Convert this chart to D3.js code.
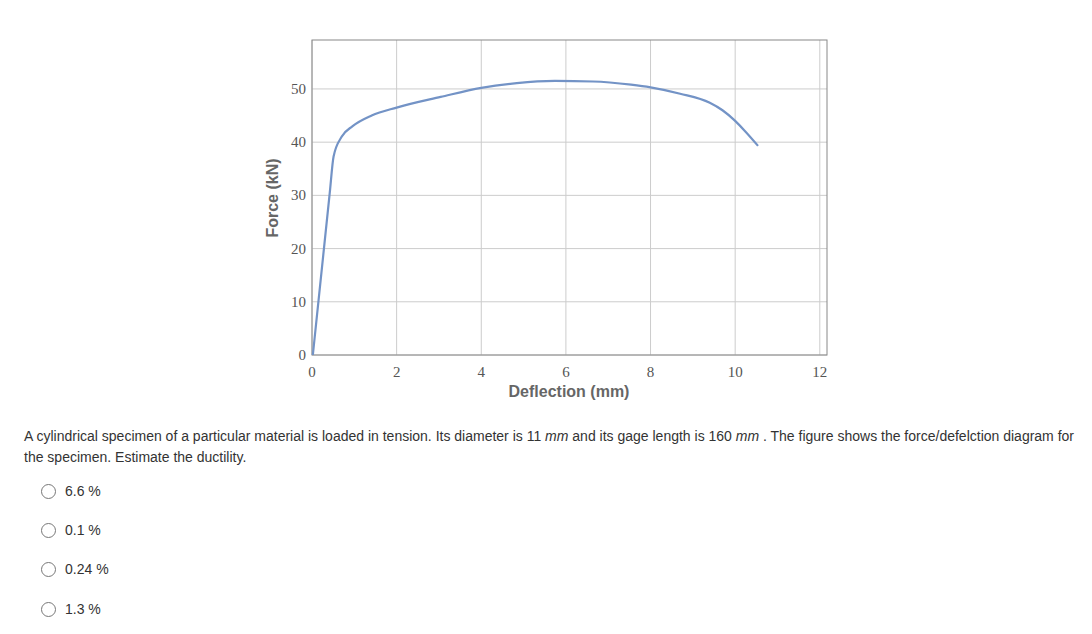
<!DOCTYPE html>
<html><head><meta charset="utf-8">
<script src="https://cdn.jsdelivr.net/npm/d3@7"></script>
<style>
body{margin:0;background:#fff;font-family:"Liberation Sans",Arial,sans-serif;}
.q{position:absolute;left:24px;top:426px;width:1050px;font-size:14px;color:#333;line-height:21px;}
.opt{position:absolute;left:41px;font-size:14px;color:#333;}
.opt span.r{display:inline-block;width:13px;height:13px;border:1px solid #777;border-radius:50%;vertical-align:-3px;margin-right:9px;}
</style></head><body>
<svg id="chart" width="1092" height="420" style="position:absolute;left:0;top:0"></svg>
<div class="q">A cylindrical specimen of a particular material is loaded in tension. Its diameter is 11 <i>mm</i> and its gage length is 160 <i>mm</i> . The figure shows the force/defelction diagram for the specimen. Estimate the ductility.</div>
<div id="opts"></div>
<script>
var deflection = [0.02,0.42,0.51,0.7,0.96,1.41,2,3.04,4,4.84,5.74,6.64,7.54,8,8.7,9.4,9.7,10.0,10.24,10.54];
var force = [0,30.5,37.3,41,43,45,46.5,48.5,50.2,51.1,51.5,51.4,50.8,50.3,49.1,47.4,46.0,44.0,42,39.3];
var xTicks = [0,2,4,6,8,10,12];
var yTicks = [0,10,20,30,40,50];
var options = ["6.6 %","0.1 %","0.24 %","1.3 %"];
var optionTops = [483,522,561,601];

var svg = d3.select("#chart");
var x = d3.scaleLinear().domain([0,12.17]).range([312,827]);
var y = d3.scaleLinear().domain([0,59.2]).range([355,40]);

svg.append("g").selectAll("line.v").data(xTicks).enter().append("line")
  .attr("x1",d=>x(d)).attr("x2",d=>x(d)).attr("y1",40).attr("y2",355)
  .attr("stroke","#ccc");
svg.append("g").selectAll("line.h").data(yTicks).enter().append("line")
  .attr("x1",312).attr("x2",827).attr("y1",d=>y(d)).attr("y2",d=>y(d))
  .attr("stroke","#ccc");
svg.append("rect").attr("x",312).attr("y",40).attr("width",515).attr("height",315)
  .attr("fill","none").attr("stroke","#888");

svg.selectAll("text.xt").data(xTicks).enter().append("text")
  .attr("x",d=>x(d)).attr("y",377).attr("text-anchor","middle")
  .style("font-family","'Liberation Serif',serif").style("font-size","15px").attr("fill","#555")
  .text(d=>d);
svg.selectAll("text.yt").data(yTicks).enter().append("text")
  .attr("x",306).attr("y",d=>y(d)+5).attr("text-anchor","end")
  .style("font-family","'Liberation Serif',serif").style("font-size","15px").attr("fill","#555")
  .text(d=>d);

svg.append("text").attr("x",569).attr("y",397).attr("text-anchor","middle")
  .style("font-size","16px").style("font-weight","bold").attr("fill","#666").text("Deflection (mm)");
svg.append("text").attr("transform","translate(278,198) rotate(-90)").attr("text-anchor","middle")
  .style("font-size","16px").style("font-weight","bold").attr("fill","#666").text("Force (kN)");

var line = d3.line().x((d,i)=>x(d)).y((d,i)=>y(force[i])).curve(d3.curveMonotoneX);
svg.append("path").attr("d",line(deflection)).attr("fill","none")
  .attr("stroke","#7393c6").attr("stroke-width",2.2);

d3.select("#opts").selectAll("div").data(options).enter().append("div")
  .attr("class","opt").style("top",(d,i)=>optionTops[i]+"px")
  .html(d=>'<span class="r"></span>'+d);
</script>
</body></html>
